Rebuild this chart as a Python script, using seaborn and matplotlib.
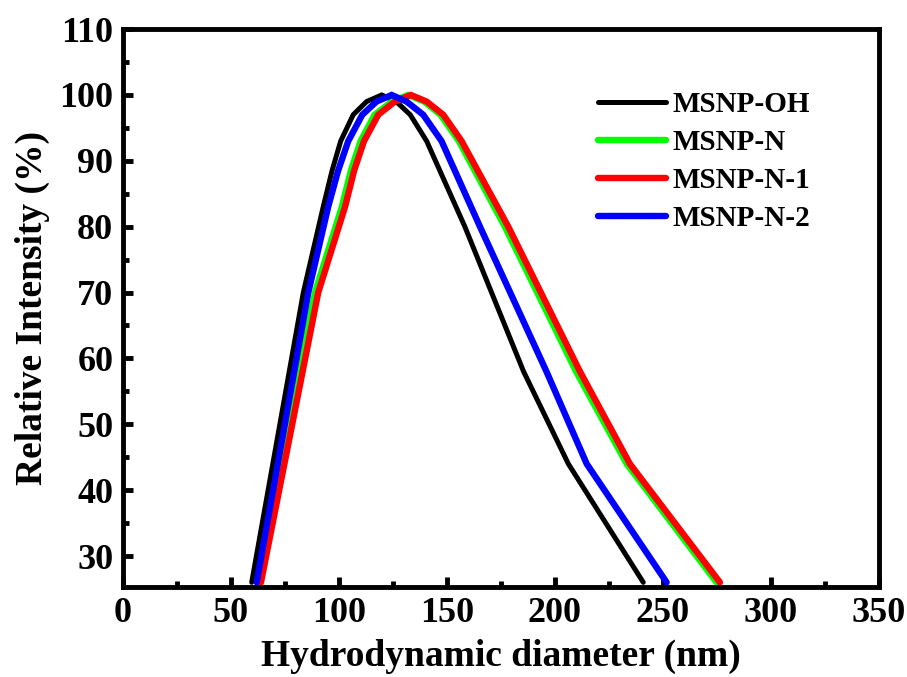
import matplotlib
matplotlib.use("Agg")
import matplotlib.pyplot as plt
import seaborn as sns
import pandas as pd
from matplotlib.ticker import MultipleLocator

# ---- data ----
series_names = ["MSNP-OH", "MSNP-N", "MSNP-N-1", "MSNP-N-2"]
series_colors = ["#000000", "#00FF00", "#FF0000", "#0000FF"]

y_levels = [26, 70, 83, 88.5, 93, 97, 99, 100, 99, 97, 93, 80, 58, 44, 26]

x_oh = [59.6, 83.5, 92.7, 96.8, 100.8, 106.6, 112.8, 119.8,
        126.5, 133.0, 140.6, 158.3, 185.5, 206.2, 240.9]
x_n = [62.6, 88.9, 101.3, 105.5, 110.0, 116.5, 124.5, 132.0,
       139.5, 147.0, 155.5, 176.8, 209.8, 233.2, 274.8]
x_n1 = [63.9, 90.4, 102.8, 107.0, 111.6, 118.2, 125.9, 133.3,
        140.6, 148.3, 156.8, 178.4, 211.6, 234.7, 276.4]
x_n2 = [61.9, 85.8, 95.0, 99.6, 104.3, 110.8, 117.4, 124.4,
        131.3, 139.0, 147.5, 165.3, 196.1, 214.7, 251.7]

x_ticks = [0, 50, 100, 150, 200, 250, 300, 350]
y_ticks = [30, 40, 50, 60, 70, 80, 90, 100, 110]

sns.set_theme(style="white")
plt.rcParams["font.family"] = ["Liberation Serif", "DejaVu Serif"]
plt.rcParams["font.weight"] = "bold"
plt.rcParams["text.color"] = "black"
plt.rcParams["axes.labelcolor"] = "black"
plt.rcParams["xtick.color"] = "black"
plt.rcParams["ytick.color"] = "black"

fig = plt.figure(figsize=(9.07, 6.77), dpi=100)
ax = fig.add_axes([0.1356, 0.133, 0.8334, 0.824])

xs = [x_oh, x_n, x_n1, x_n2]
widths = [3.6, 4.6, 4.6, 4.6]
for name, color, xv, lw in zip(series_names, series_colors, xs, widths):
    df = pd.DataFrame({"x": xv, "y": y_levels})
    sns.lineplot(data=df, x="x", y="y", sort=False, estimator=None,
                 color=color, linewidth=lw, label=name, ax=ax,
                 solid_joinstyle="miter")

ax.set_xlim(0, 350)
ax.set_ylim(25.3, 110)
ax.set_xticks(x_ticks)
ax.set_yticks(y_ticks)
ax.xaxis.set_minor_locator(MultipleLocator(25))
ax.yaxis.set_minor_locator(MultipleLocator(5))

for side in ["left", "bottom", "top", "right"]:
    ax.spines[side].set_visible(True)
    ax.spines[side].set_color("black")
    ax.spines[side].set_linewidth(3.5)

ax.tick_params(axis="both", which="major", direction="in", length=7, width=3.5,
               labelsize=26, pad=7, colors="black", labelcolor="black",
               left=True, bottom=True, top=False, right=False)
ax.tick_params(axis="both", which="minor", direction="in", length=4.5, width=3.5,
               left=True, bottom=True, top=False, right=False)
for lab in ax.get_xticklabels() + ax.get_yticklabels():
    lab.set_fontweight("bold")

ax.set_xlabel("Hydrodynamic diameter (nm)", fontsize=27, fontweight="bold",
              color="black", labelpad=6.5)
ax.set_ylabel("Relative Intensity (%)", fontsize=27, fontweight="bold",
              color="black", labelpad=7)
ax.grid(False)

leg = ax.legend(loc="upper left", bbox_to_anchor=(0.659, 0.866),
                bbox_transform=fig.transFigure, frameon=False,
                prop={"family": "Liberation Serif", "weight": "bold", "size": 21},
                handlelength=2.33, handletextpad=0.24, labelspacing=0.38,
                borderpad=0, borderaxespad=0)
for t in leg.get_texts():
    t.set_color("black")

fig.savefig("out.png", dpi=100)
